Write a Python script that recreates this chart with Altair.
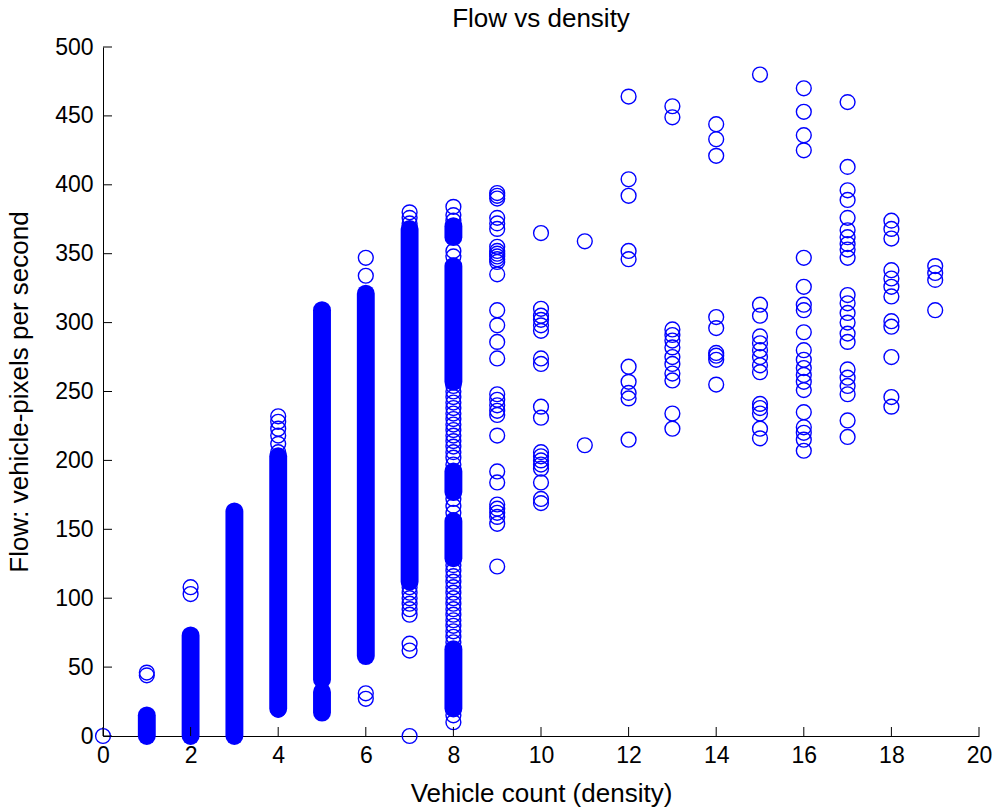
import altair as alt
import pandas as pd

# ---- data -----------------------------------------------------------------
# Dense runs of overlapping circles (vehicle count, lowest flow, highest flow)
band_count = [1, 2, 3, 4, 5, 5, 6, 7, 8, 8, 8, 8, 8]
band_low = [0, 0, 0, 20, 41, 17, 58, 112, 362, 257, 177, 129, 20]
band_high = [15, 73, 163, 203, 309, 32, 321, 368, 370, 341, 192, 156, 63]

# Individual circles, per vehicle count (flow in vehicle-pixels per second)
flow_0 = [0]
flow_1 = [44, 46]
flow_2 = [103, 108]
flow_4 = [232, 228, 223, 218, 212, 206, 19]
flow_6 = [347, 334, 31, 27]
flow_7 = [380, 376, 372, 108, 104, 100, 96, 92, 88, 67, 62, 0]
flow_8 = [384, 378, 374, 352, 348, 254, 250, 246, 242, 238, 234, 230, 226, 222,
          218, 214, 210, 206, 202, 197, 172, 167, 162,
          124, 120, 116, 112, 108, 104, 100, 96, 92, 88, 84, 80, 76, 72, 68, 15, 10]
flow_9 = [394, 392, 390, 376, 372, 368, 355, 352, 350, 348, 346, 344, 335,
          309, 298, 286, 274, 248, 244, 240, 236, 233, 218,
          192, 184, 168, 165, 162, 159, 154, 123]
flow_10 = [365, 310, 305, 302, 298, 294, 274, 270, 239, 231,
           206, 203, 200, 197, 194, 184, 172, 169]
flow_11 = [359, 211]
flow_12 = [464, 404, 392, 352, 346, 268, 257, 249, 245, 215]
flow_13 = [457, 449, 295, 291, 287, 282, 275, 270, 263, 258, 234, 223]
flow_14 = [444, 433, 421, 304, 296, 278, 276, 273, 255]
flow_15 = [480, 313, 305, 290, 285, 280, 275, 269, 264, 241, 238, 234, 223, 216]
flow_16 = [470, 453, 436, 425, 347, 326, 313, 309, 293, 280, 273, 267, 262,
           257, 251, 235, 224, 220, 215, 207]
flow_17 = [460, 413, 396, 389, 376, 367, 362, 357, 353, 347, 320, 314, 307,
           300, 292, 286, 266, 260, 254, 248, 229, 217]
flow_18 = [374, 368, 361, 338, 332, 326, 319, 301, 297, 275, 246, 239]
flow_19 = [341, 336, 331, 309]

x_ticks = [0, 2, 4, 6, 8, 10, 12, 14, 16, 18, 20]
y_ticks = [0, 50, 100, 150, 200, 250, 300, 350, 400, 450, 500]

TITLE = "Flow vs density"
X_TITLE = "Vehicle count (density)"
Y_TITLE = "Flow: vehicle-pixels per second"

# ---- tables ----------------------------------------------------------------
columns = {0: flow_0, 1: flow_1, 2: flow_2, 4: flow_4, 6: flow_6, 7: flow_7,
           8: flow_8, 9: flow_9, 10: flow_10, 11: flow_11, 12: flow_12,
           13: flow_13, 14: flow_14, 15: flow_15, 16: flow_16, 17: flow_17,
           18: flow_18, 19: flow_19}
pts = pd.DataFrame([{"count": c, "flow": f} for c, fl in columns.items() for f in fl])
bands = pd.DataFrame({"count": band_count, "flow": band_low, "flow2": band_high})
xt = pd.DataFrame({"count": x_ticks})
yt = pd.DataFrame({"flow": y_ticks})

W, H = 876, 689
BLUE = "#0000ff"
FONT = "Liberation Sans"

xscale = alt.Scale(domain=[0, 20], nice=False, zero=False)
yscale = alt.Scale(domain=[0, 500], nice=False, zero=False)

xaxis = alt.Axis(values=x_ticks, title=X_TITLE, grid=False, ticks=False, tickSize=0,
                 labelPadding=8, titlePadding=13, domainColor="black", domainWidth=1,
                 labelColor="black", titleColor="black", labelFont=FONT, titleFont=FONT,
                 labelFontSize=23, titleFontSize=26, titleFontWeight="normal",
                 format="d", labelFlush=False)
yaxis = alt.Axis(values=y_ticks, title=Y_TITLE, grid=False, ticks=False, tickSize=0,
                 labelPadding=10, titlePadding=22, domainColor="black", domainWidth=1,
                 labelColor="black", titleColor="black", labelFont=FONT, titleFont=FONT,
                 labelFontSize=23, titleFontSize=26, titleFontWeight="normal",
                 format="d", labelFlush=False)

band_layer = alt.Chart(bands).mark_rule(color=BLUE, strokeWidth=17.9, strokeCap="round").encode(
    x=alt.X("count:Q", scale=xscale, axis=xaxis),
    y=alt.Y("flow:Q", scale=yscale, axis=yaxis),
    y2="flow2:Q",
)

point_layer = alt.Chart(pts).mark_point(shape="circle", filled=False, size=220,
                                        strokeWidth=1.4, color=BLUE, opacity=1).encode(
    x=alt.X("count:Q", scale=xscale, axis=xaxis),
    y=alt.Y("flow:Q", scale=yscale, axis=yaxis),
)

xtick_layer = alt.Chart(xt).mark_rule(color="black", strokeWidth=1).encode(
    x=alt.X("count:Q", scale=xscale, axis=xaxis),
    y=alt.value(H),
    y2=alt.value(H - 9),
)

ytick_layer = alt.Chart(yt).mark_rule(color="black", strokeWidth=1).encode(
    y=alt.Y("flow:Q", scale=yscale, axis=yaxis),
    x=alt.value(0),
    x2=alt.value(9),
)

chart = alt.layer(band_layer, point_layer, xtick_layer, ytick_layer).properties(
    width=W, height=H,
    title=alt.TitleParams(TITLE, font=FONT, fontSize=26, fontWeight="normal",
                          color="black", anchor="middle", offset=4),
    autosize=alt.AutoSizeParams(type="none"),
    padding={"left": 103, "top": 47, "right": 14, "bottom": 75},
    background="white",
).configure_view(stroke=None)

chart.save("out.html", embed_options={"renderer": "svg", "actions": False})
